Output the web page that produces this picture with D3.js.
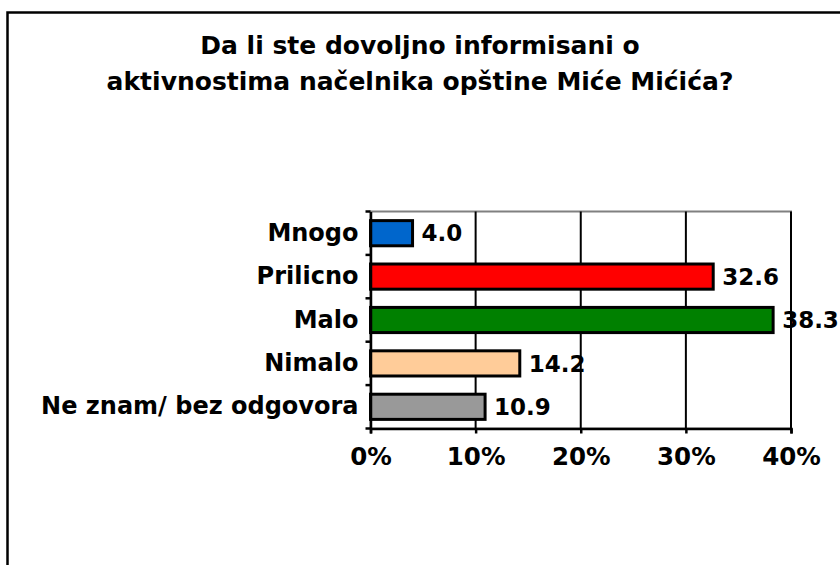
<!DOCTYPE html>
<html>
<head>
<meta charset="utf-8">
<script src="https://cdn.jsdelivr.net/npm/d3@7"></script>
<style>
  body { margin: 0; background: #fff; }
  svg { display: block; font-family: "DejaVu Sans", Verdana, sans-serif; font-weight: bold; }
</style>
</head>
<body>
<svg id="chart" width="840" height="565"></svg>
<script>
const titleLines = ["Da li ste dovoljno informisani o", "aktivnostima načelnika opštine Miće Mićića?"];
const categories = ["Mnogo", "Prilicno", "Malo", "Nimalo", "Ne znam/ bez odgovora"];
const values = [4.0, 32.6, 38.3, 14.2, 10.9];
const colors = ["#0066CC", "#FF0000", "#008000", "#FFCC99", "#999999"];
const xTicks = [0, 10, 20, 30, 40];

const font = '"DejaVu Sans", Verdana, sans-serif';
const svg = d3.select("#chart");

// outer frame (runs off the right and bottom of the picture)
svg.append("rect")
  .attr("x", 7.5).attr("y", 12.5)
  .attr("width", 900).attr("height", 600)
  .attr("fill", "none")
  .attr("stroke", "#000")
  .attr("stroke-width", 2.5);

svg.append("g").selectAll("text")
  .data(titleLines)
  .join("text")
  .attr("x", 420)
  .attr("y", (d, i) => 54 + i * 36)
  .attr("text-anchor", "middle")
  .attr("font-size", 25)
  .text(d => d);

const plot = { left: 370.5, right: 791, top: 211.5, bottom: 428.5 };

const x = d3.scaleLinear()
  .domain([0, 40])
  .range([plot.left, plot.right]);

const y = d3.scaleBand()
  .domain(categories)
  .range([plot.top, plot.bottom])
  .paddingInner(0.42)
  .paddingOuter(0.21);

// plot area border (gray)
svg.append("rect")
  .attr("x", plot.left).attr("y", plot.top)
  .attr("width", plot.right - plot.left)
  .attr("height", plot.bottom - plot.top)
  .attr("fill", "none")
  .attr("stroke", "#808080")
  .attr("stroke-width", 2);

// vertical gridlines
svg.append("g").selectAll("line")
  .data(xTicks.slice(1))
  .join("line")
  .attr("x1", d => x(d)).attr("x2", d => x(d))
  .attr("y1", plot.top).attr("y2", plot.bottom)
  .attr("stroke", "#000")
  .attr("stroke-width", 2);

// bars
svg.append("g").selectAll("rect")
  .data(categories)
  .join("rect")
  .attr("x", x(0))
  .attr("y", d => y(d))
  .attr("width", (d, i) => x(values[i]) - x(0))
  .attr("height", y.bandwidth())
  .attr("fill", (d, i) => colors[i])
  .attr("stroke", "#000")
  .attr("stroke-width", 3);

// value labels
svg.append("g").selectAll("text")
  .data(categories)
  .join("text")
  .attr("x", (d, i) => x(values[i]) + 9)
  .attr("y", d => y(d) + y.bandwidth() / 2)
  .attr("dy", "0.36em")
  .attr("font-size", 23)
  .text((d, i) => values[i].toFixed(1));

// category axis
const yAxis = svg.append("g")
  .attr("transform", `translate(${plot.left},0)`)
  .call(d3.axisLeft(y).tickSize(0).tickPadding(12))
  .attr("font-family", font)
  .attr("font-size", 24);
yAxis.select(".domain").attr("stroke", "#000").attr("stroke-width", 2.5);
yAxis.selectAll("text").attr("fill", "#000");

// category boundary ticks
const step = (plot.bottom - plot.top) / categories.length;
svg.append("g").selectAll("line")
  .data(d3.range(categories.length + 1))
  .join("line")
  .attr("x1", plot.left - 5).attr("x2", plot.left)
  .attr("y1", i => plot.top + i * step)
  .attr("y2", i => plot.top + i * step)
  .attr("stroke", "#000")
  .attr("stroke-width", 2.5);

// value axis
const xAxis = svg.append("g")
  .attr("transform", `translate(0,${plot.bottom})`)
  .call(d3.axisBottom(x).tickValues(xTicks).tickFormat(d => d + "%").tickSizeOuter(0).tickSize(5).tickPadding(14))
  .attr("font-family", font)
  .attr("font-size", 24.5);
xAxis.select(".domain").attr("stroke", "#000").attr("stroke-width", 2.5);
xAxis.selectAll(".tick line").attr("stroke", "#000").attr("stroke-width", 2.5);
xAxis.selectAll("text").attr("fill", "#000");
</script>
</body>
</html>
